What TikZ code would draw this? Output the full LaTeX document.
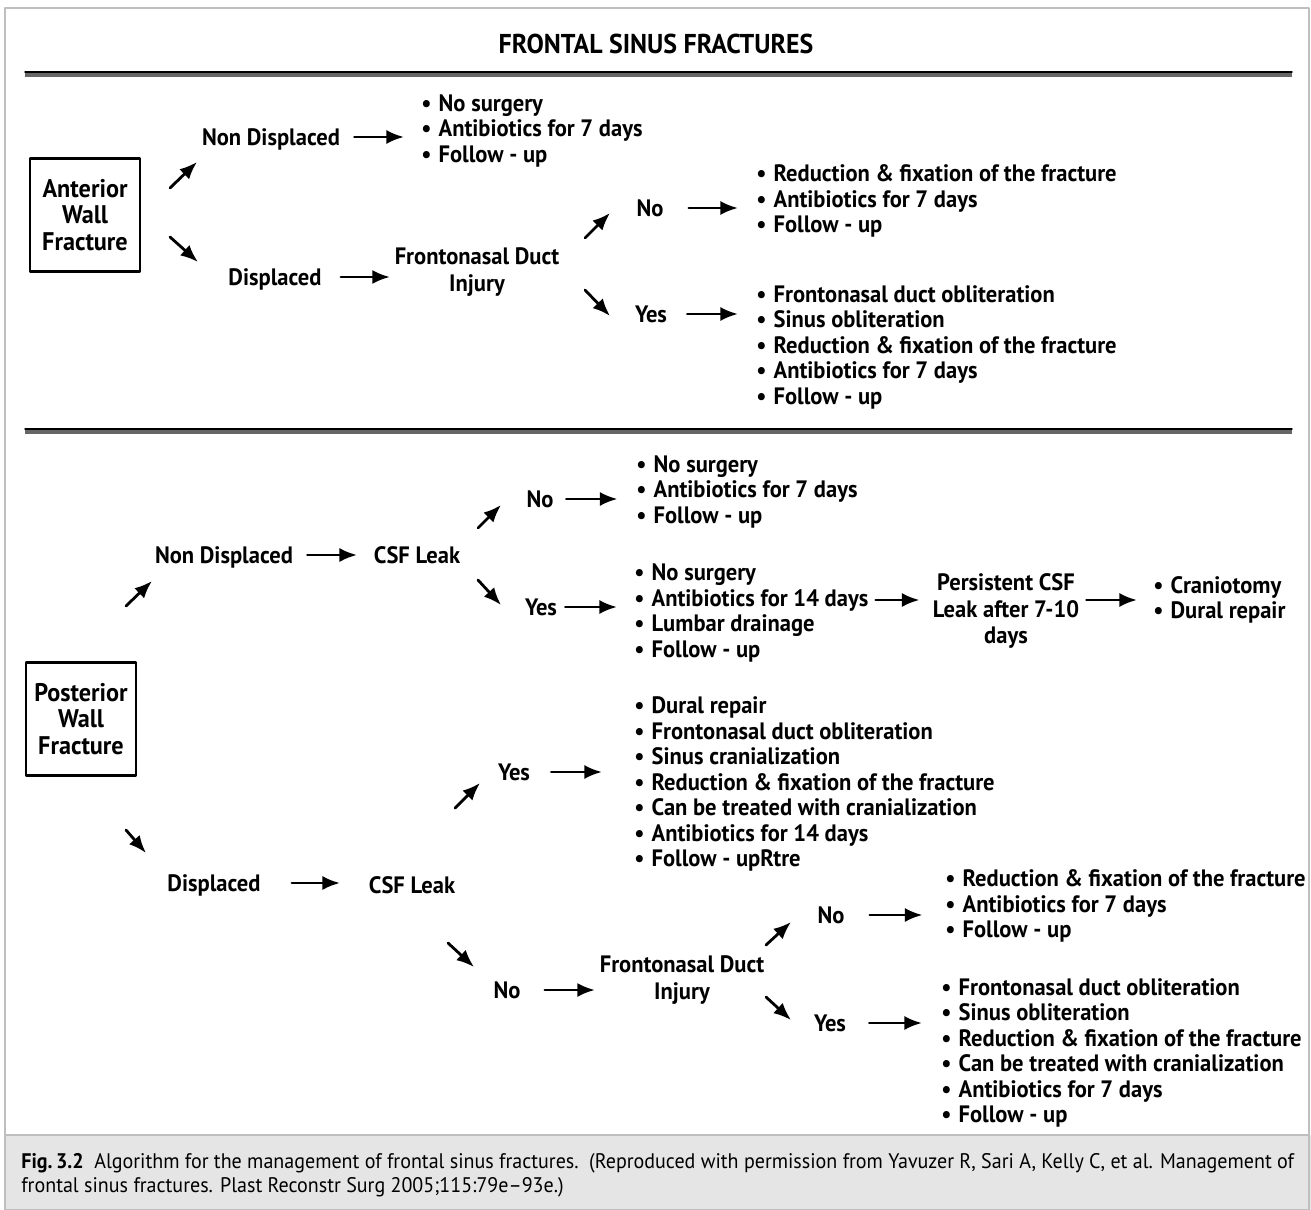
\documentclass[tikz,border=0pt]{standalone}
\usepackage{fontspec}
\setmainfont{PT Sans}[FakeStretch=0.95]
\usetikzlibrary{arrows.meta}

\newcommand{\bl}{\textbullet\hspace{0.3em}}

\tikzset{
  lbl/.style={font=\bfseries\fontsize{13.5}{15}\selectfont, inner sep=0pt, text height=9.5pt, text depth=0pt},
  multi/.style={font=\bfseries\fontsize{13.5}{15}\selectfont, inner sep=0pt, align=center},
  lst/.style={font=\bfseries\fontsize{13.5}{14.5}\selectfont, inner sep=0pt, align=left, anchor=west},
  wallbox/.style={draw, line width=1.5pt, align=center, minimum width=22mm, minimum height=22.6mm, inner sep=0pt, font=\bfseries\fontsize{14.5}{15}\selectfont},
  arr/.style={line width=1.6pt, -{Latex[length=10pt,width=8pt]}},
}

\begin{document}
\begin{tikzpicture}[x=0.2mm,y=-0.2mm,line cap=round,line join=round]

\useasboundingbox (0,0) rectangle (1311,1210);
\fill[white] (0,0) rectangle (1311,1210);

% frame and caption band
\fill[black!10] (5,1135) rectangle (1311,1210);
\draw[black!25, line width=0.6pt] (5,8) rectangle (1309,1210);
\draw[black!25, line width=0.6pt] (5,1135) -- (1309,1135);

% title and the two rules
\node[lbl, font=\bfseries\fontsize{15.5}{17}\selectfont] (title) at (656,45) {FRONTAL SINUS FRACTURES};
\fill[black!60] (25,71) rectangle (1292,77);
\draw[black, line width=0.8pt] (25,72) -- (1292,72);
\fill[black!60] (25,428) rectangle (1292,434);
\draw[black, line width=0.8pt] (25,429) -- (1292,429);

% anterior wall
\node[wallbox] (antbox) at (85,215) {Anterior\\Wall\\Fracture};
\node[lbl] (antND) at (271,137) {Non Displaced};
\node[lst] (antNDlist) at (421,131) {\bl No surgery\\\bl Antibiotics for 7 days\\\bl Follow - up};
\node[lbl] (antD) at (275,277) {Displaced};
\node[multi] (antFD) at (477,272) {Frontonasal Duct\\Injury};
\node[lbl] (antNo) at (650,208) {No};
\node[lst] (antNolist) at (756,201) {\bl Reduction \& fixation of the fracture\\\bl Antibiotics for 7 days\\\bl Follow - up};
\node[lbl] (antYes) at (651,314) {Yes};
\node[lst] (antYeslist) at (756,347) {\bl Frontonasal duct obliteration\\\bl Sinus obliteration\\\bl Reduction \& fixation of the fracture\\\bl Antibiotics for 7 days\\\bl Follow - up};

% slanted arrow ends
\coordinate (a1s) at (170,188); \coordinate (a1e) at (197,162);
\coordinate (a2s) at (170,237); \coordinate (a2e) at (198,262);
\coordinate (a3s) at (585,238); \coordinate (a3e) at (610,213);
\coordinate (a4s) at (585,290); \coordinate (a4e) at (610,316);
\draw[arr] (a1s) -- (a1e);
\draw[arr] (a2s) -- (a2e);
\draw[arr] (a3s) -- (a3e);
\draw[arr] (a4s) -- (a4e);

\draw[arr, shorten <=2.8mm, shorten >=3.4mm] (antND.east) -- (antND.east -| antNDlist.west);
\draw[arr, shorten <=3.8mm, shorten >=0.9mm] (antD.east) -- (antD.east -| antFD.west);
\draw[arr, shorten <=5mm, shorten >=3.6mm] (antNo.east) -- (antNo.east -| antNolist.west);
\draw[arr, shorten <=4mm, shorten >=3.6mm] (antYes.east) -- (antYes.east -| antYeslist.west);

% posterior wall
\node[wallbox] (postbox) at (81,719) {Posterior\\Wall\\Fracture};
\node[lbl] (pND) at (224,555) {Non Displaced};
\node[lbl] (pCSFa) at (417,555) {CSF Leak};
\node[lbl] (pNoA) at (540,499) {No};
\node[lst] (pNoAlist) at (636,492) {\bl No surgery\\\bl Antibiotics for 7 days\\\bl Follow - up};
\node[lbl] (pYesA) at (541,607) {Yes};
\node[lst] (pYesAlist) at (634,613) {\bl No surgery\\\bl Antibiotics for 14 days\\\bl Lumbar drainage\\\bl Follow - up};
\node[multi] (pPers) at (1006,611) {Persistent CSF\\Leak after 7-10\\days};
\node[lst] (pCran) at (1153,600) {\bl Craniotomy\\\bl Dural repair};
\node[lbl] (pD) at (214,883) {Displaced};
\node[lbl] (pCSFb) at (412,885) {CSF Leak};
\node[lbl] (pYesB) at (514,772) {Yes};
\node[lst] (pYesBlist) at (634,784) {\bl Dural repair\\\bl Frontonasal duct obliteration\\\bl Sinus cranialization\\\bl Reduction \& fixation of the fracture\\\bl Can be treated with cranialization\\\bl Antibiotics for 14 days\\\bl Follow - upRtre};
\node[lbl] (pNoB) at (507,990) {No};
\node[multi] (pFD) at (682,980) {Frontonasal Duct\\Injury};
\node[lbl] (pNoC) at (831,915) {No};
\node[lst] (pNoClist) at (945,906) {\bl Reduction \& fixation of the fracture\\\bl Antibiotics for 7 days\\\bl Follow - up};
\node[lbl] (pYesC) at (830,1023) {Yes};
\node[lst] (pYesClist) at (941,1053) {\bl Frontonasal duct obliteration\\\bl Sinus obliteration\\\bl Reduction \& fixation of the fracture\\\bl Can be treated with cranialization\\\bl Antibiotics for 7 days\\\bl Follow - up};

\coordinate (b1s) at (126,606); \coordinate (b1e) at (152,581);
\coordinate (b2s) at (126,830); \coordinate (b2e) at (146,853);
\coordinate (b3s) at (478,528); \coordinate (b3e) at (501,505);
\coordinate (b4s) at (478,580); \coordinate (b4e) at (501,605);
\coordinate (b5s) at (455,808); \coordinate (b5e) at (480,783);
\coordinate (b6s) at (448,943); \coordinate (b6e) at (474,967);
\coordinate (b7s) at (766,945); \coordinate (b7e) at (791,922);
\coordinate (b8s) at (766,997); \coordinate (b8e) at (791,1020);
\foreach \n in {1,...,8}
  \draw[arr] (b\n s) -- (b\n e);

\draw[arr, shorten <=2.8mm, shorten >=3.3mm] (pND.east) -- (pCSFa.west);
\draw[arr, shorten <=2.5mm, shorten >=3.7mm] (pNoA.east) -- (pNoA.east -| pNoAlist.west);
\draw[arr, shorten <=1.6mm, shorten >=3.4mm] (pYesA.east) -- (pYesA.east -| pYesAlist.west);
\draw[arr, shorten <=1.4mm, shorten >=2.6mm] (pYesAlist.east |- pCran.west) -- (pPers.west |- pCran.west);
\draw[arr, shorten <=1.4mm, shorten >=3.2mm] (pPers.east |- pCran.west) -- (pCran.west);
\draw[arr, shorten <=6.2mm, shorten >=5.7mm] (pD.east) -- (pD.east -| pCSFb.west);
\draw[arr, shorten <=4.2mm, shorten >=6.4mm] (pYesB.east) -- (pYesB.east -| pYesBlist.west);
\draw[arr, shorten <=4.8mm, shorten >=0.9mm] (pNoB.east) -- (pNoB.east -| pFD.west);
\draw[arr, shorten <=5mm, shorten >=4.5mm] (pNoC.east) -- (pNoC.east -| pNoClist.west);
\draw[arr, shorten <=4.6mm, shorten >=3.8mm] (pYesC.east) -- (pYesC.east -| pYesClist.west);

% caption
\node[anchor=west, align=left, inner sep=0pt, font=\fontsize{12}{13.6}\selectfont] (cap) at (21,1175)
  {\textbf{Fig.\,3.2}\enspace Algorithm for the management of frontal sinus fractures.\enspace (Reproduced with permission from Yavuzer R, Sari A, Kelly C, et al. Management of\\frontal sinus fractures. Plast Reconstr Surg 2005;115:79e--93e.)};

\end{tikzpicture}
\end{document}
